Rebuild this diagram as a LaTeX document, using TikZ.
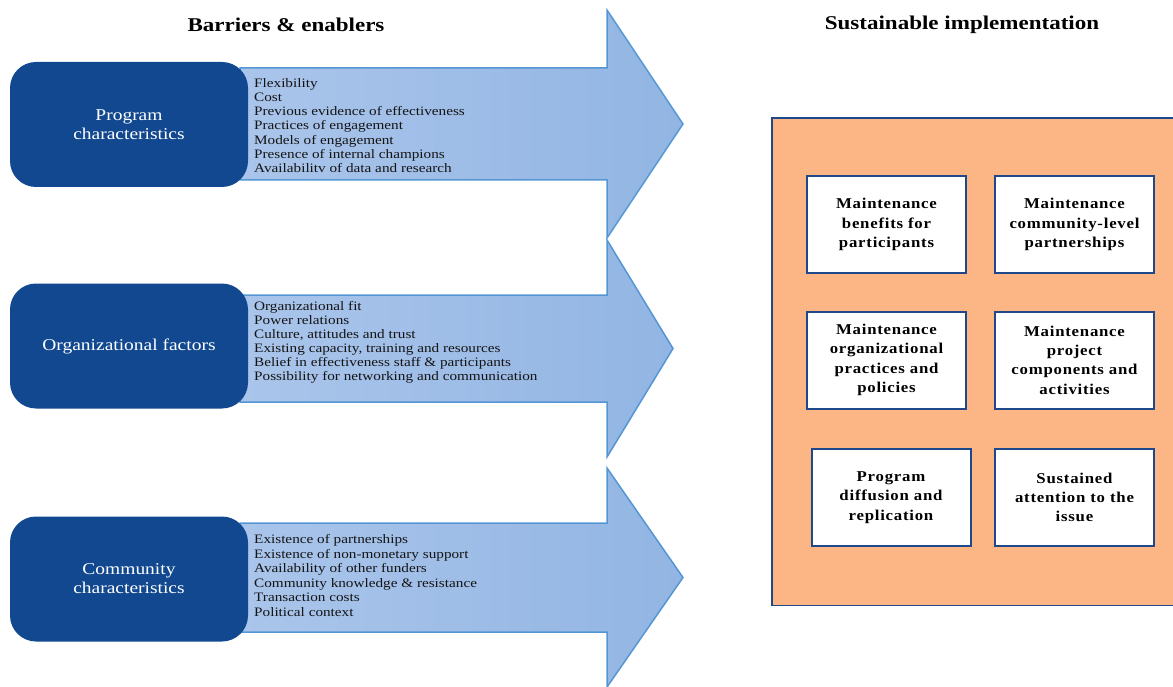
\documentclass[tikz,border=0pt]{standalone}
\usepackage{fontspec}
\setmainfont[FakeStretch=1.18]{Liberation Serif}
\newfontfamily\tilefont[FakeStretch=1.12,LetterSpace=5]{Liberation Serif}
\usetikzlibrary{positioning}

\definecolor{navy}{RGB}{17,72,143}
\definecolor{arrowedge}{RGB}{84,150,212}
\definecolor{arrowlight}{RGB}{170,197,235}
\definecolor{arrowdark}{RGB}{146,181,227}
\definecolor{panelfill}{RGB}{252,181,132}
\definecolor{paneledge}{RGB}{30,72,140}
\definecolor{listink}{RGB}{20,20,20}

\tikzset{
  heading/.style={font=\bfseries\fontsize{19.5}{22}\selectfont, inner sep=0},
  bararrow/.style={draw=arrowedge, line width=1.5pt, line join=miter,
    left color=arrowlight, right color=arrowdark},
  catbox/.style={fill=navy, rounded corners=26pt, minimum width=238pt,
    minimum height=125pt, text=white, align=center,
    font=\fontsize{16.5}{19}\selectfont},
  itemlist/.style={anchor=west, inner sep=0, align=left, text=listink},
  panel/.style={fill=panelfill, draw=paneledge, line width=1.8pt},
  tile/.style={fill=white, draw=paneledge, line width=2pt,
    minimum width=159pt, minimum height=97pt, align=center, inner sep=2pt,
    font=\tilefont\bfseries\fontsize{15}{19.3}\selectfont}
}

\begin{document}
\begin{tikzpicture}[x=1pt,y=-1pt]
\useasboundingbox (0,0) rectangle (1173,687);

% column headings
\node[heading] (leftTitle) at (286,25) {Barriers \& enablers};
\node[heading] (rightTitle) at (962,25) {Sustainable implementation};

% block arrows, drawn bottom first
\path[bararrow] (240,523) -- (607,523) -- (607,468) -- (683,577.5)
  -- (607,687) -- (607,632) -- (240,632) -- cycle;
\path[bararrow] (240,295) -- (607,295) -- (607,240) -- (673,348.5)
  -- (607,457) -- (607,402) -- (240,402) -- cycle;
\path[bararrow] (240,68) -- (607,68) -- (607,10) -- (683,124)
  -- (607,238) -- (607,180) -- (240,180) -- cycle;

% category boxes
\node[catbox] (prog) at (129,124.5) {Program\\characteristics};
\node[catbox] (org)  at (129,346)   {Organizational factors};
\node[catbox] (comm) at (129,579)   {Community\\characteristics};

% factor lists
\node[itemlist, font=\fontsize{12.9}{14.2}\selectfont] (progItems) at (254,125.5)
  {Flexibility\\Cost\\Previous evidence of effectiveness\\Practices of engagement\\
   Models of engagement\\Presence of internal champions\\Availabilitv of data and research};
\node[itemlist, font=\fontsize{12.9}{14}\selectfont] (orgItems) at (254,342)
  {Organizational fit\\Power relations\\Culture, attitudes and trust\\
   Existing capacity, training and resources\\Belief in effectiveness staff \& participants\\
   Possibility for networking and communication};
\node[itemlist, font=\fontsize{12.9}{14.6}\selectfont] (commItems) at (254,575.5)
  {Existence of partnerships\\Existence of non-monetary support\\Availability of other funders\\
   Community knowledge \& resistance\\Transaction costs\\Political context};

% outcome panel
\path[panel] (772,118) rectangle (1185,605.5);

\node[tile] (t1) at (886.5,224.5) {Maintenance\\benefits for\\participants};
\node[tile] (t2) at (1074.5,224.5) {Maintenance\\community-level\\partnerships};
\node[tile] (t3) at (886.5,360) {Maintenance\\organizational\\practices and\\policies};
\node[tile] (t4) at (1074.5,360) {Maintenance\\project\\components and\\activities};
\node[tile] (t5) at (891,497.5) {Program\\diffusion and\\replication};
\node[tile] (t6) at (1074.5,497.5) {Sustained\\attention to the\\issue};
\end{tikzpicture}
\end{document}
